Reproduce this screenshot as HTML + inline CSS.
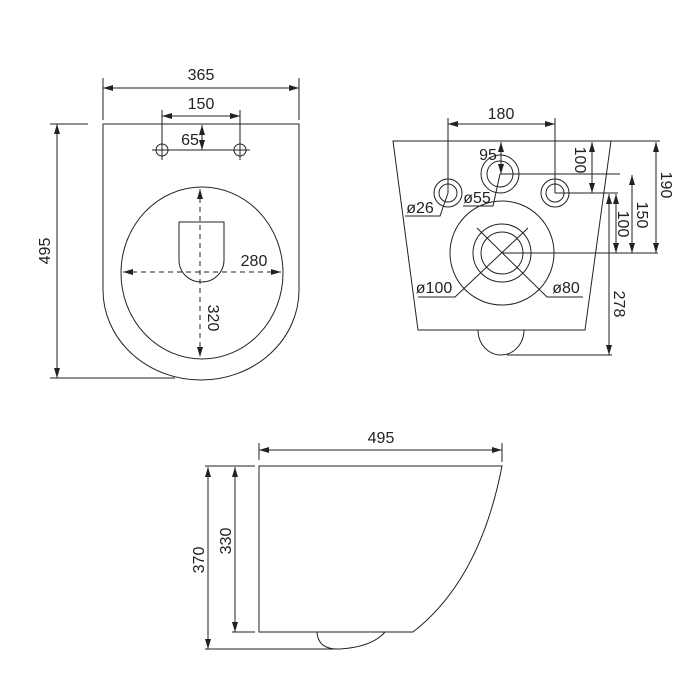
<!DOCTYPE html>
<html><head><meta charset="utf-8"><style>
html,body{margin:0;padding:0;background:#fff;}
svg{display:block}
text{font-family:"Liberation Sans",sans-serif;font-size:16px;fill:#222;}
</style></head><body>
<svg width="700" height="700" viewBox="0 0 700 700" xmlns="http://www.w3.org/2000/svg">
<defs>
<marker id="a" viewBox="0 0 10 6" refX="10" refY="3" markerWidth="10" markerHeight="6" orient="auto-start-reverse" markerUnits="userSpaceOnUse">
<path d="M0,0 L10,3 L0,6 z" fill="#222"/></marker>
</defs>
<g stroke="#222" stroke-width="1" fill="none">
<path d="M103,124 L299,124 L299,290 A98,90 0 0 1 103,290 Z"/>
<line x1="50" y1="378" x2="175" y2="378"/>
<line x1="50" y1="124" x2="88" y2="124"/>
<line x1="57" y1="124" x2="57" y2="378" marker-start="url(#a)" marker-end="url(#a)"/>
<line x1="103" y1="78" x2="103" y2="120"/>
<line x1="299" y1="78" x2="299" y2="120"/>
<line x1="103" y1="88" x2="299" y2="88" marker-start="url(#a)" marker-end="url(#a)"/>
<line x1="162" y1="110" x2="162" y2="160"/>
<line x1="240" y1="110" x2="240" y2="160"/>
<line x1="162" y1="116" x2="240" y2="116" marker-start="url(#a)" marker-end="url(#a)"/>
<circle cx="162" cy="150" r="6"/>
<circle cx="240" cy="150" r="6"/>
<line x1="152" y1="150" x2="250" y2="150"/>
<line x1="202" y1="125" x2="202" y2="150" marker-start="url(#a)" marker-end="url(#a)"/>
<ellipse cx="202" cy="273" rx="81" ry="86"/>
<path d="M179,222 L224,222 L224,260 A22,22 0 0 1 202,282 A22,22 0 0 1 179,260 Z"/>
<line x1="200" y1="189" x2="200" y2="357" stroke-dasharray="5,4" marker-start="url(#a)" marker-end="url(#a)"/>
<line x1="123" y1="272" x2="281" y2="272" stroke-dasharray="5,4" marker-start="url(#a)" marker-end="url(#a)"/>

<path d="M393,141 L611,141 L585,330 L418,330 Z"/>
<line x1="611" y1="141" x2="660" y2="141"/>
<path d="M478,330 A23,25 0 0 0 524,330"/>
<line x1="507" y1="355" x2="612" y2="355"/>
<line x1="448" y1="118" x2="448" y2="193"/>
<line x1="555" y1="118" x2="555" y2="193"/>
<line x1="448" y1="124" x2="555" y2="124" marker-start="url(#a)" marker-end="url(#a)"/>
<circle cx="448" cy="193" r="14"/><circle cx="448" cy="193" r="9"/>
<circle cx="555" cy="193" r="14"/><circle cx="555" cy="193" r="9"/>
<circle cx="500" cy="174" r="19"/><circle cx="500" cy="174" r="13"/>
<line x1="501" y1="142" x2="501" y2="174" marker-start="url(#a)" marker-end="url(#a)"/>
<polyline points="448,193 440,216 405,216"/>
<polyline points="500,174 493,206 463,206"/>
<circle cx="502" cy="253" r="52"/>
<circle cx="502" cy="253" r="29"/>
<circle cx="502" cy="253" r="21"/>
<polyline points="477,228 547,297 583,297"/>
<polyline points="528,228 455,297 418,297"/>
<line x1="500" y1="174" x2="620" y2="174"/>
<line x1="555" y1="193" x2="618" y2="193"/>
<line x1="502" y1="253" x2="658" y2="253"/>
<line x1="592" y1="142" x2="592" y2="193" marker-start="url(#a)" marker-end="url(#a)"/>
<line x1="632" y1="175" x2="632" y2="253" marker-start="url(#a)" marker-end="url(#a)"/>
<line x1="656" y1="142" x2="656" y2="253" marker-start="url(#a)" marker-end="url(#a)"/>
<line x1="616" y1="194" x2="616" y2="253" marker-start="url(#a)" marker-end="url(#a)"/>
<line x1="609" y1="194" x2="609" y2="355" marker-start="url(#a)" marker-end="url(#a)"/>

<path d="M259,466 L502,466 Q480,580 413,632 L259,632 Z"/>
<path d="M317,632 Q318,650 340,649 Q372,647 385,632"/>
<line x1="205" y1="649" x2="340" y2="649"/>
<line x1="205" y1="466" x2="255" y2="466"/>
<line x1="232" y1="632" x2="255" y2="632"/>
<line x1="259" y1="443" x2="259" y2="460"/>
<line x1="502" y1="443" x2="502" y2="462"/>
<line x1="259" y1="450" x2="502" y2="450" marker-start="url(#a)" marker-end="url(#a)"/>
<line x1="208" y1="467" x2="208" y2="649" marker-start="url(#a)" marker-end="url(#a)"/>
<line x1="235" y1="467" x2="235" y2="632" marker-start="url(#a)" marker-end="url(#a)"/>
</g>
<g text-anchor="middle">
<text x="201" y="80">365</text>
<text x="201" y="109">150</text>
<text x="190" y="145">65</text>
<text x="254" y="266">280</text>
<text transform="translate(208,318) rotate(90)">320</text>
<text transform="translate(50,251) rotate(-90)">495</text>
<text x="501" y="119">180</text>
<text x="488" y="160">95</text>
<text x="420" y="213">ø26</text>
<text x="477" y="203">ø55</text>
<text x="434" y="293">ø100</text>
<text x="566" y="293">ø80</text>
<text transform="translate(575,160) rotate(90)">100</text>
<text transform="translate(618,224) rotate(90)">100</text>
<text transform="translate(637,215) rotate(90)">150</text>
<text transform="translate(661,185) rotate(90)">190</text>
<text transform="translate(614,304) rotate(90)">278</text>
<text x="381" y="443">495</text>
<text transform="translate(204,560) rotate(-90)">370</text>
<text transform="translate(231,541) rotate(-90)">330</text>
</g>
</svg>
</body></html>
